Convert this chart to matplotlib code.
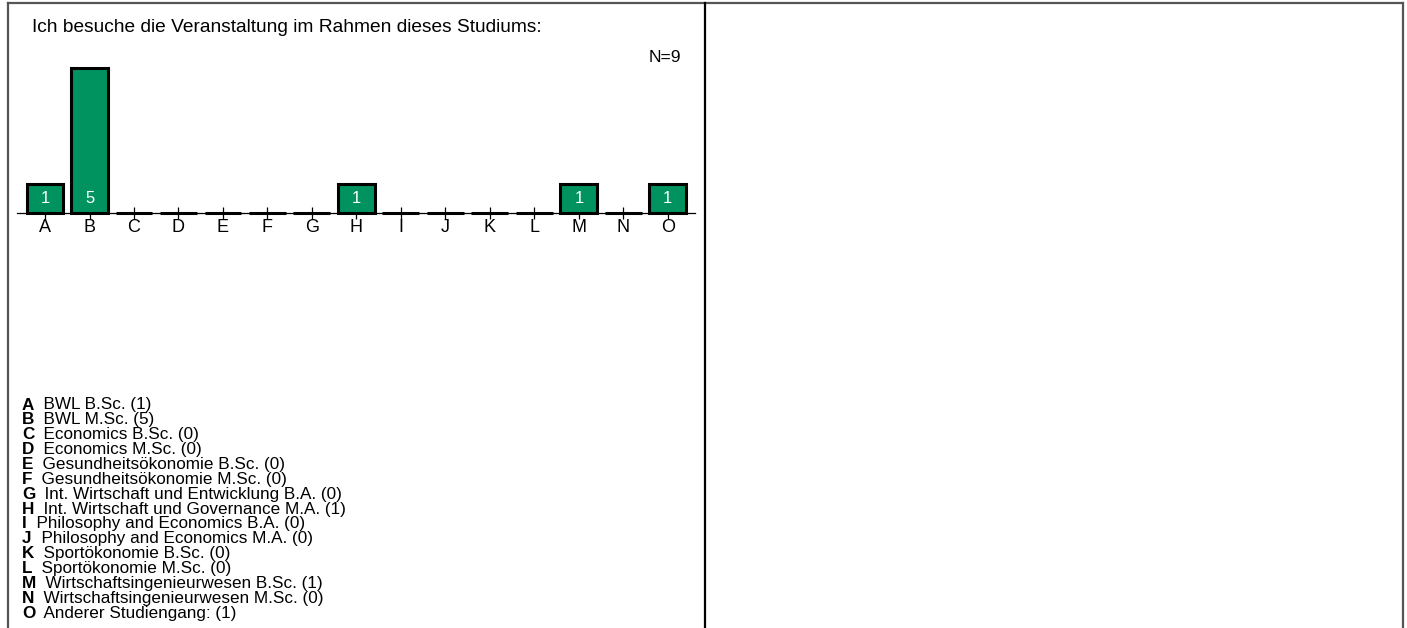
import matplotlib
matplotlib.use("Agg")
import matplotlib.pyplot as plt
from matplotlib.lines import Line2D

# ── Data ───────────────────────────────────────────────────────────────────
LETTERS = list("ABCDEFGHIJKLMNO")
COUNTS = [1, 5, 0, 0, 0, 0, 0, 1, 0, 0, 0, 0, 1, 0, 1]
PROGRAMS = [
    "BWL B.Sc.",
    "BWL M.Sc.",
    "Economics B.Sc.",
    "Economics M.Sc.",
    "Gesundheitsökonomie B.Sc.",
    "Gesundheitsökonomie M.Sc.",
    "Int. Wirtschaft und Entwicklung B.A.",
    "Int. Wirtschaft und Governance M.A.",
    "Philosophy and Economics B.A.",
    "Philosophy and Economics M.A.",
    "Sportökonomie B.Sc.",
    "Sportökonomie M.Sc.",
    "Wirtschaftsingenieurwesen B.Sc.",
    "Wirtschaftsingenieurwesen M.Sc.",
    "Anderer Studiengang:",
]
TITLE = "Ich besuche die Veranstaltung im Rahmen dieses Studiums:"
N_TOTAL = sum(COUNTS)

# ── Style ──────────────────────────────────────────────────────────────────
GREEN = "#00925F"
plt.rcParams["font.family"] = "Liberation Sans"

W, H = 1407, 628
fig = plt.figure(figsize=(W / 100, H / 100), dpi=100)


def fx(px):
    return px / W


def fy(py):
    return 1 - py / H


# ── Bar axes (pixel geometry of the reference) ─────────────────────────────
unit_px = 29.0
base_px = 213.0
ymax = 5.5
x_left, x_right = 17.0, 695.0
ax = fig.add_axes([fx(x_left), fy(base_px), fx(x_right) - fx(x_left),
                   ymax * unit_px / H])

xs = list(range(len(LETTERS)))
bars = ax.bar(xs, COUNTS, width=0.83, color=GREEN, edgecolor="black",
              linewidth=2.2, zorder=3)
for b in bars:
    b.set_clip_on(False)
for x, c in zip(xs, COUNTS):
    if c > 0:
        ax.text(x, 0.5, str(c), ha="center", va="center", color="white",
                fontsize=12, zorder=4)

ax.set_xlim(-0.63, 14.61)
ax.set_ylim(0, ymax)
ax.set_xticks(xs)
ax.set_xticklabels(LETTERS, fontsize=13)
ax.set_yticks([])
ax.tick_params(axis="x", direction="inout", length=9, width=0.9, pad=0,
               zorder=5)
for s in ["top", "right", "left"]:
    ax.spines[s].set_visible(False)
ax.spines["bottom"].set_linewidth(0.9)
ax.patch.set_visible(False)

# ── Texts ──────────────────────────────────────────────────────────────────
fig.text(fx(32), fy(28), TITLE, fontsize=13.8, va="center", ha="left")
fig.text(fx(681), fy(58), f"N={N_TOTAL}", fontsize=12.5, va="center",
         ha="right")

y0, dy = 405.0, 14.86
for i, (letter, prog, c) in enumerate(zip(LETTERS, PROGRAMS, COUNTS)):
    t = fig.text(fx(22), fy(y0 + i * dy), letter, fontsize=12.3,
                 fontweight="bold", va="center", ha="left")
    plt.annotate(f"  {prog} ({c})", xy=(1, 0), xycoords=t, fontsize=12.3,
                 va="bottom", ha="left", annotation_clip=False)

# ── Frame lines ────────────────────────────────────────────────────────────
gray = "#555555"
for xs_, ys_, col in [
    ([8, 8], [3, H], gray),
    ([8, 1403], [3, 3], gray),
    ([1403, 1403], [3, H], gray),
    ([705, 705], [3, H], "black"),
]:
    fig.add_artist(Line2D([fx(v) for v in xs_], [fy(v) for v in ys_],
                          color=col, lw=1.6, transform=fig.transFigure))

fig.savefig("out.png", dpi=100)
